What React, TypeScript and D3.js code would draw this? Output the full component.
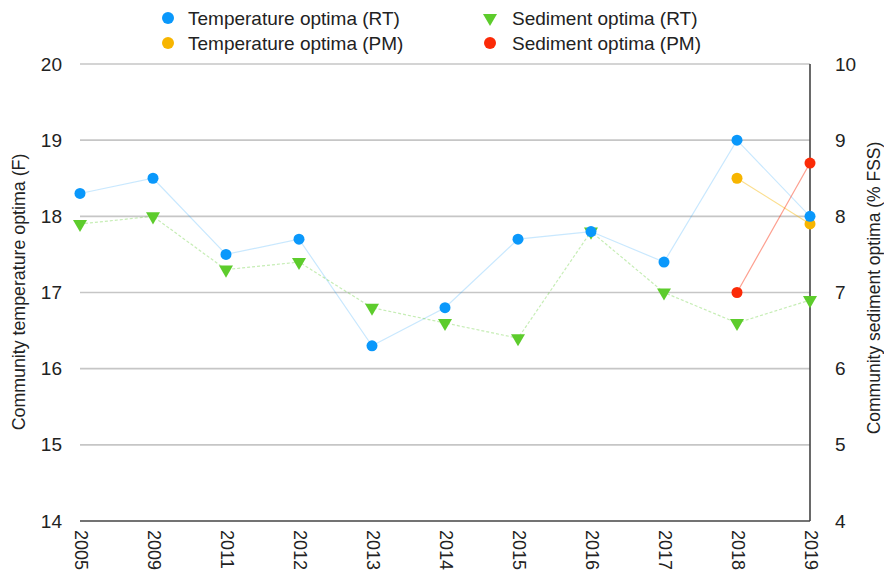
import React from "react";
import * as d3 from "d3";

const years = ["2005", "2009", "2011", "2012", "2013", "2014", "2015", "2016", "2017", "2018", "2019"];
const tempRT = [18.3, 18.5, 17.5, 17.7, 16.3, 16.8, 17.7, 17.8, 17.4, 19.0, 18.0];
const tempPMYears = ["2018", "2019"];
const tempPM = [18.5, 17.9];
const sedRT = [7.9, 8.0, 7.3, 7.4, 6.8, 6.6, 6.4, 7.8, 7.0, 6.6, 6.9];
const sedPMYears = ["2018", "2019"];
const sedPM = [7.0, 8.7];
const leftTicks = [14, 15, 16, 17, 18, 19, 20];
const rightTicks = [4, 5, 6, 7, 8, 9, 10];

const W = 884, H = 571;
const FONT = "'Liberation Sans', Arial, Helvetica, sans-serif";
const C = { blue: "#0a98fb", orange: "#f7b500", green: "#5dcc2c", red: "#fb2a07" };

export default function App() {
  const x = d3.scalePoint<string>().domain(years).range([80, 810]);
  const yL = d3.scaleLinear().domain([14, 20]).range([521, 64]);
  const yR = d3.scaleLinear().domain([4, 10]).range([521, 64]);
  const line = (xs: string[], vs: number[], y: d3.ScaleLinear<number, number>) =>
    d3.line<number>().x((_, i) => x(xs[i])!).y((v) => y(v))(vs) || "";
  const tri = d3.symbol().type(d3.symbolTriangle).size(85)() || "";

  const circle = (cx: number, cy: number, fill: string, key: string) => (
    <circle key={key} cx={cx} cy={cy} r={5.5} fill={fill} />
  );
  const triangle = (cx: number, cy: number, key: string) => (
    <path key={key} d={tri} transform={`translate(${cx},${cy}) rotate(180)`} fill={C.green} />
  );

  return (
    <svg width={W} height={H} style={{ position: "absolute", left: 0, top: 0, background: "#fff" }} fontFamily={FONT}>
      {/* gridlines */}
      {leftTicks.filter((t) => t !== 14).map((t) => (
        <line key={t} x1={80} x2={810} y1={yL(t)} y2={yL(t)} stroke="#c6c6c6" strokeWidth={1.6} />
      ))}
      <line x1={80} x2={810} y1={yL(14)} y2={yL(14)} stroke="#444" strokeWidth={1.3} />
      <line x1={810} x2={810} y1={yL(20)} y2={yL(14)} stroke="#444" strokeWidth={1.6} />

      {/* left ticks */}
      {leftTicks.map((t) => (
        <text key={t} x={62} y={yL(t)} textAnchor="end" dominantBaseline="central" fontSize={19} fill="#222">{t}</text>
      ))}
      {/* right ticks */}
      {rightTicks.map((t) => (
        <text key={t} x={835} y={yR(t)} textAnchor="start" dominantBaseline="central" fontSize={19} fill="#222">{t}</text>
      ))}
      {/* x labels */}
      {years.map((yr) => (
        <text key={yr} transform={`translate(${x(yr)! + 0.5},530) rotate(90)`} textAnchor="start" dominantBaseline="central" fontSize={18} fill="#222">{yr}</text>
      ))}

      {/* axis titles */}
      <text transform="translate(19,292) rotate(-90)" textAnchor="middle" dominantBaseline="central" fontSize={17.8} fill="#222">Community temperature optima (F)</text>
      <text transform="translate(874,288) rotate(-90)" textAnchor="middle" dominantBaseline="central" fontSize={17.5} fill="#222">Community sediment optima (% FSS)</text>

      {/* lines */}
      <path d={line(years, tempRT, yL)} fill="none" stroke={C.blue} strokeOpacity={0.22} strokeWidth={1.2} />
      <path d={line(years, sedRT, yR)} fill="none" stroke={C.green} strokeOpacity={0.35} strokeWidth={1.2} strokeDasharray="3,2" />
      <path d={line(tempPMYears, tempPM, yL)} fill="none" stroke={C.orange} strokeOpacity={0.45} strokeWidth={1.2} />
      <path d={line(sedPMYears, sedPM, yR)} fill="none" stroke={C.red} strokeOpacity={0.45} strokeWidth={1.2} />

      {/* markers */}
      {sedRT.map((v, i) => triangle(x(years[i])!, yR(v), "s" + i))}
      {tempPM.map((v, i) => circle(x(tempPMYears[i])!, yL(v), C.orange, "tp" + i))}
      {tempRT.map((v, i) => circle(x(years[i])!, yL(v), C.blue, "t" + i))}
      {sedPM.map((v, i) => circle(x(sedPMYears[i])!, yR(v), C.red, "sp" + i))}

      {/* legend */}
      <g fontSize={19} fill="#222">
        <circle cx={168} cy={18} r={6} fill={C.blue} />
        <text x={188} y={18} dominantBaseline="central">Temperature optima (RT)</text>
        <circle cx={168} cy={43} r={6} fill={C.orange} />
        <text x={188} y={43} dominantBaseline="central">Temperature optima (PM)</text>
        <path d={tri} transform="translate(490,18) rotate(180)" fill={C.green} />
        <text x={512} y={18} dominantBaseline="central">Sediment optima (RT)</text>
        <circle cx={490} cy={43} r={6} fill={C.red} />
        <text x={512} y={43} dominantBaseline="central">Sediment optima (PM)</text>
      </g>
    </svg>
  );
}
